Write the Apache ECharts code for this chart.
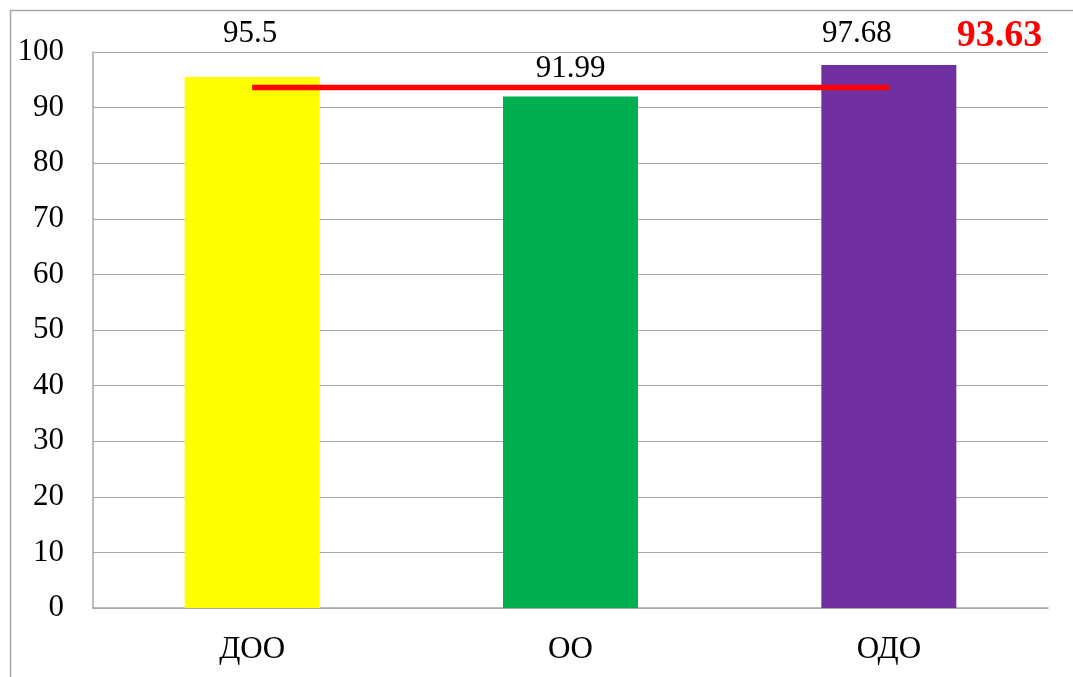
<!DOCTYPE html>
<html>
<head>
<meta charset="utf-8">
<script src="https://cdn.jsdelivr.net/npm/echarts@6/dist/echarts.min.js"></script>
<style>html,body{margin:0;padding:0;background:#fff}#c{width:1073px;height:677px}</style>
</head>
<body>
<div id="c"></div>
<script>
const categories = ['ДОО', 'ОО', 'ОДО'];
const values = [95.5, 91.99, 97.68];
const barColors = ['#FFFF00', '#00B050', '#7030A0'];
const averageValue = 93.63;
const averageLine = [averageValue, averageValue, averageValue];
const yTicks = [0, 10, 20, 30, 40, 50, 60, 70, 80, 90, 100];
const labelDistance = [28, 12.5, 16];
const labelShiftX = [-2, 0, -32];

const font = '"Liberation Serif", "Times New Roman", serif';
const chart = echarts.init(document.getElementById('c'), null, {renderer: 'canvas'});
chart.setOption({
  animation: false,
  backgroundColor: '#fff',
  graphic: [{
    type: 'rect', left: 8, top: 8, z: -10,
    shape: {width: 1200, height: 800},
    style: {fill: 'none', stroke: '#a6a6a6', lineWidth: 1.5}
  }],
  grid: {left: 93, right: 25, top: 52, bottom: 69, containLabel: false},
  xAxis: {
    type: 'category',
    data: categories,
    axisLine: {lineStyle: {color: '#a6a6a6', width: 1.5}},
    axisTick: {show: false},
    axisLabel: {color: '#000', fontFamily: font, fontSize: 31, margin: 26}
  },
  yAxis: {
    type: 'value',
    min: yTicks[0], max: yTicks[yTicks.length - 1], interval: 10,
    axisLine: {show: true, lineStyle: {color: '#a6a6a6', width: 1.5}},
    axisTick: {show: false},
    splitLine: {lineStyle: {color: '#a6a6a6', width: 1.2}},
    axisLabel: {color: '#000', fontFamily: font, fontSize: 31, margin: 29}
  },
  series: [{
    type: 'bar',
    barWidth: 135,
    data: values.map((v, i) => ({
      value: v,
      itemStyle: {color: barColors[i]},
      label: {distance: labelDistance[i], offset: [labelShiftX[i], 0]}
    })),
    label: {show: true, position: 'top', color: '#000', fontFamily: font, fontSize: 31}
  }, {
    type: 'line',
    data: averageLine,
    symbol: 'none',
    z: 5,
    lineStyle: {color: '#FF0000', width: 5.5, cap: 'butt'},
    endLabel: {
      show: true,
      formatter: () => averageValue.toFixed(2),
      color: '#FF0000', fontFamily: font, fontSize: 38, fontWeight: 'bold',
      distance: 0,
      offset: [68, -51]
    }
  }]
});
</script>
</body>
</html>
